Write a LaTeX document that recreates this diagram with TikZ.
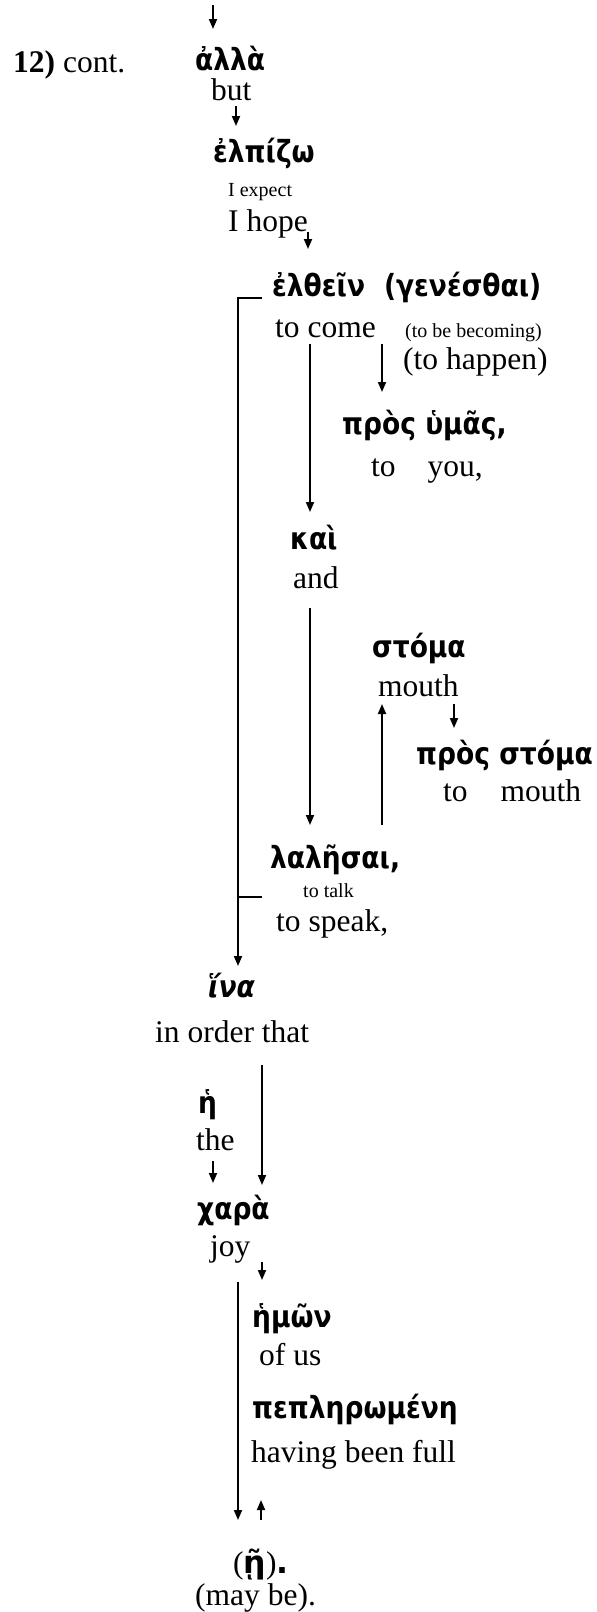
\documentclass[tikz,border=0pt]{standalone}
\usepackage{fontspec}
\setmainfont{Liberation Serif}
\newfontfamily\grk{DejaVu Sans}
\usetikzlibrary{arrows.meta}
\newcommand\gs[1]{\scalebox{1}[1.15]{#1}}
\begin{document}
\begin{tikzpicture}[x=1pt,y=-1pt,
  en/.style={anchor=base west,inner sep=0pt,font=\fontsize{31.5}{36}\selectfont},
  sm/.style={anchor=base west,inner sep=0pt,font=\fontsize{20}{24}\selectfont},
  gk/.style={anchor=base west,inner sep=0pt,font=\grk\bfseries\fontsize{26.5}{30}\selectfont},
  gki/.style={anchor=base west,inner sep=0pt,font=\grk\bfseries\itshape\fontsize{26.5}{30}\selectfont},
  arr/.style={line width=1.8pt,-{Triangle[length=10pt,width=8pt]}},
  ln/.style={line width=1.8pt}]
\useasboundingbox (0,0) rectangle (597,1612);
% text
\node[en] (n12) at (13,72) {\textbf{12)} cont.};
\node[gk] (alla) at (195,70) {\gs{ἀλλὰ}};
\node[en] (but) at (211,100) {but};
\node[gk] (elpizo) at (213,162) {\gs{ἐλπίζω}};
\node[sm] (iexp) at (228,196) {I expect};
\node[en] (ihope) at (228,231) {I hope};
\node[gk] (elthein) at (272,296) {\gs{ἐλθεῖν\hspace{19pt}(γενέσθαι)}};
\node[en] (tocome) at (275,337) {to come};
\node[sm] (tobebec) at (405,337) {(to be becoming)};
\node[en] (tohappen) at (403,369) {(to happen)};
\node[gk] (prosumas) at (342,434) {\gs{πρὸς ὑμᾶς,}};
\node[en] (toyou) at (371,476) {to\hspace{32pt}you,};
\node[gk] (kai) at (290,549) {\gs{καὶ}};
\node[en] (and) at (293,588) {and};
\node[gk] (stoma) at (372,657) {\gs{στόμα}};
\node[en] (mouth) at (378,696) {mouth};
\node[gk] (prosstoma) at (416,764) {\gs{πρὸς στόμα}};
\node[en] (tomouth) at (443,801) {to\hspace{33pt}mouth};
\node[gk] (lalesai) at (270,868) {\gs{λαλῆσαι,}};
\node[sm] (totalk) at (303,897) {to talk};
\node[en] (tospeak) at (276,931) {to speak,};
\node[gki] (hina) at (208,997) {\gs{ἵνα}};
\node[en] (inorder) at (155,1042) {in order that};
\node[gk] (he) at (198,1113) {\gs{ἡ}};
\node[en] (the) at (196,1150) {the};
\node[gk] (chara) at (197,1219) {\gs{χαρὰ}};
\node[en] (joy) at (210,1256) {joy};
\node[gk] (hemon) at (252,1327) {\gs{ἡμῶν}};
\node[en] (ofus) at (259,1365) {of us};
\node[gk] (pepl) at (252,1418) {\gs{πεπληρωμένη}};
\node[en] (having) at (251,1462) {having been full};
\node[en] (ei) at (233,1573) {({\grk\bfseries ῇ}){\grk\bfseries .}};
\node[en] (maybe) at (195,1605) {(may be).};
% connector coordinates
\coordinate (a1s) at (213,5);   \coordinate (a1e) at (213,29);
\coordinate (a2s) at (236,106); \coordinate (a2e) at (236,126);
\coordinate (a3s) at (308,232); \coordinate (a3e) at (308,249);
\coordinate (bt) at (262,298);  \coordinate (bc) at (238,298); \coordinate (be) at (238,966);
\coordinate (tk1) at (238,897); \coordinate (tk2) at (262,897);
\coordinate (ams) at (382,344); \coordinate (ame) at (382,392);
\coordinate (l1s) at (310,344); \coordinate (l1e) at (310,512);
\coordinate (l2s) at (310,608); \coordinate (l2e) at (310,825);
\coordinate (u1s) at (382,825); \coordinate (u1e) at (382,704);
\coordinate (sms) at (454,704); \coordinate (sme) at (454,728);
\coordinate (l3s) at (262,1065); \coordinate (l3e) at (262,1185);
\coordinate (ths) at (213,1161); \coordinate (the) at (213,1183);
\coordinate (jys) at (262,1262); \coordinate (jye) at (262,1280);
\coordinate (l4s) at (238,1282); \coordinate (l4e) at (238,1520);
\coordinate (u2s) at (261,1520); \coordinate (u2e) at (261,1500);
% connectors
\draw[arr] (a1s) -- (a1e);
\draw[arr] (a2s) -- (a2e);
\draw[arr] (a3s) -- (a3e);
\draw[arr] (bt) -- (bc) -- (be);
\draw[ln] (tk1) -- (tk2);
\draw[arr] (ams) -- (ame);
\draw[arr] (l1s) -- (l1e);
\draw[arr] (l2s) -- (l2e);
\draw[arr] (u1s) -- (u1e);
\draw[arr] (sms) -- (sme);
\draw[arr] (l3s) -- (l3e);
\draw[arr] (ths) -- (the);
\draw[arr] (jys) -- (jye);
\draw[arr] (l4s) -- (l4e);
\draw[arr] (u2s) -- (u2e);
\end{tikzpicture}
\end{document}
